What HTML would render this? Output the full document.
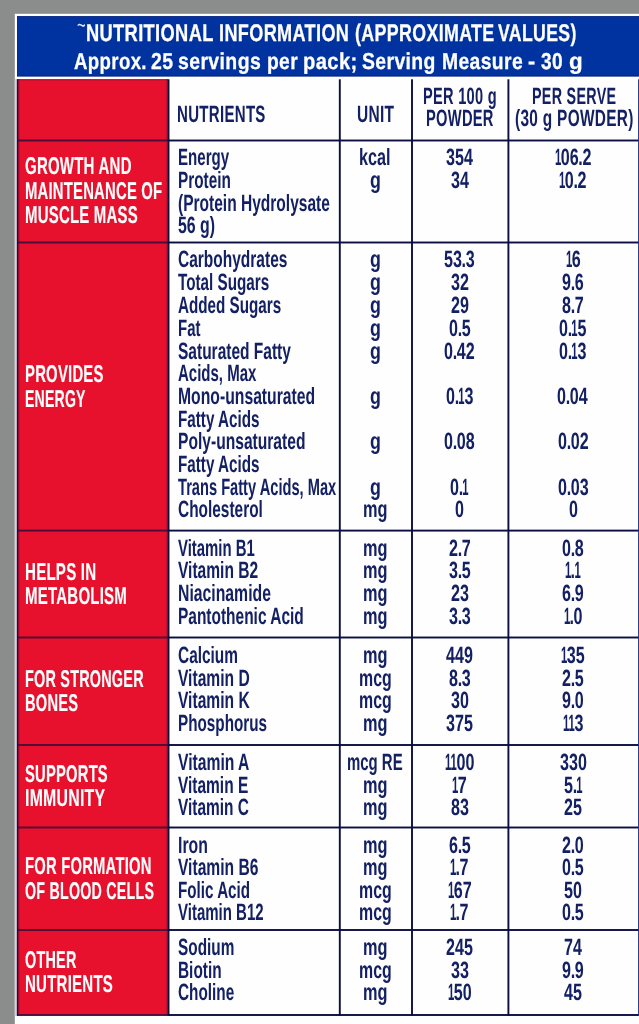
<!DOCTYPE html>
<html lang="en">
<head>
<meta charset="utf-8">
<title>Nutritional Information</title>
<style>
html,body{margin:0;padding:0;background:#8a8d8c;}
body{width:639px;height:1024px;overflow:hidden;position:relative;font-family:"Liberation Sans",sans-serif;}
#label{position:absolute;left:0;top:0;width:639px;height:1024px;overflow:hidden;background:#8a8d8c;}
#bg{position:absolute;left:0;top:0;width:639px;height:1024px;display:block;}
.t{position:absolute;white-space:nowrap;line-height:30px;font-weight:bold;transform-origin:0 50%;color:#142064;
   text-rendering:geometricPrecision;margin:0;padding:0;}
.t.title{color:#fff;font-size:24.00px;letter-spacing:0.020em;}
.t.cat{color:#fff;font-size:24.20px;letter-spacing:0.015em;}
.t.head{font-size:23.50px;letter-spacing:0.020em;}
.t.name,.t.unit,.t.num{font-size:23.50px;}
.t.tilde{font-size:23.5px;letter-spacing:0;}
.tl{margin:0;padding:0;font-size:0;line-height:0;}
.t.title{-webkit-text-stroke:0.3px #fff;}
.t.cat{-webkit-text-stroke:0.15px #fff;}
.t.t2{font-size:23px;}
.t.tilde{-webkit-text-stroke:0;font-weight:normal;color:#e4e9fb;}
.t.num{font-kerning:none;}
.n1{display:inline-block;transform:scaleX(.7);margin:0 -0.1em;}
.nd{margin:0 -0.02em;}
</style>
</head>
<body>
<div id="label">
<svg id="bg" width="639" height="1024" viewBox="0 0 639 1024" aria-hidden="true">
<rect x="0" y="0" width="639" height="1024" fill="#8a8d8c"/>
<rect x="14.8" y="13.8" width="625" height="1011" fill="#fefefe"/>
<rect x="14.8" y="79" width="2.4" height="937" fill="#d3d1e2"/>
<rect x="17" y="16.1" width="622" height="60.5" fill="#001f7a"/>
<rect x="17.3" y="16.9" width="622" height="58.7" fill="#0033a0"/>
<rect x="17.2" y="79.3" width="151" height="935.8" fill="#e8112d"/>
<rect x="18.2" y="79.3" width="1.6" height="935.8" fill="#c30f31"/>
<rect x="165.9" y="79.3" width="1.8" height="935.8" fill="#c30f31"/>
<rect x="17.00" y="79.30" width="151.30" height="1.00" fill="#9c0f2c"/>
<rect x="168.00" y="139.55" width="471.00" height="1.90" fill="#0b0e40"/>
<rect x="17.00" y="139.55" width="151.30" height="1.90" fill="#4a0d3a"/>
<rect x="168.00" y="241.55" width="471.00" height="1.90" fill="#0b0e40"/>
<rect x="17.00" y="241.55" width="151.30" height="1.90" fill="#4a0d3a"/>
<rect x="168.00" y="529.65" width="471.00" height="1.90" fill="#0b0e40"/>
<rect x="17.00" y="529.65" width="151.30" height="1.90" fill="#4a0d3a"/>
<rect x="168.00" y="636.55" width="471.00" height="1.90" fill="#0b0e40"/>
<rect x="17.00" y="636.55" width="151.30" height="1.90" fill="#4a0d3a"/>
<rect x="168.00" y="744.05" width="471.00" height="1.90" fill="#0b0e40"/>
<rect x="17.00" y="744.05" width="151.30" height="1.90" fill="#4a0d3a"/>
<rect x="168.00" y="826.55" width="471.00" height="1.90" fill="#0b0e40"/>
<rect x="17.00" y="826.55" width="151.30" height="1.90" fill="#4a0d3a"/>
<rect x="168.00" y="929.05" width="471.00" height="1.90" fill="#0b0e40"/>
<rect x="17.00" y="929.05" width="151.30" height="1.90" fill="#4a0d3a"/>
<rect x="168.00" y="1014.05" width="471.00" height="1.90" fill="#0b0e40"/>
<rect x="17.00" y="1014.05" width="151.30" height="1.90" fill="#4a0d3a"/>
<rect x="16.85" y="79.30" width="1.50" height="936.60" fill="#2a0a34"/>
<rect x="167.65" y="79.30" width="1.80" height="936.60" fill="#150a30"/>
<rect x="338.85" y="79.30" width="1.90" height="936.60" fill="#0b0e40"/>
<rect x="411.05" y="79.30" width="1.90" height="936.60" fill="#0b0e40"/>
<rect x="507.45" y="79.30" width="1.90" height="936.60" fill="#0b0e40"/>
<rect x="638.1" y="79.3" width="1.2" height="936.5" fill="#1f2a80"/>
</svg>
<header class="titleblock">
<h1 class="tl"><span class="t title tilde" style="left:77.27px;top:10px;transform:scaleX(0.6298)">~</span> <span class="t title" style="left:85.86px;top:19px;transform:scaleX(0.7607)">NUTRITIONAL</span> <span class="t title" style="left:218.97px;top:19px;transform:scaleX(0.7539)">INFORMATION</span> <span class="t title" style="left:354.57px;top:19px;transform:scaleX(0.7422)">(APPROXIMATE</span> <span class="t title" style="left:498.32px;top:19px;transform:scaleX(0.7362)">VALUES)</span></h1>
<p class="tl"><span class="t title t2" style="left:73.90px;top:46px;transform:scaleX(0.8091)">Approx.</span> <span class="t title t2" style="left:150.77px;top:46px;transform:scaleX(0.8444)">25</span> <span class="t title t2" style="left:177.57px;top:46px;transform:scaleX(0.8457)">servings</span> <span class="t title t2" style="left:266.85px;top:46px;transform:scaleX(0.8345)">per</span> <span class="t title t2" style="left:303.28px;top:46px;transform:scaleX(0.8773)">pack;</span> <span class="t title t2" style="left:361.87px;top:46px;transform:scaleX(0.8425)">Serving</span> <span class="t title t2" style="left:441.84px;top:46px;transform:scaleX(0.8395)">Measure</span> <span class="t title t2" style="left:528.46px;top:46px;transform:scaleX(0.9391)">-</span> <span class="t title t2" style="left:540.79px;top:46px;transform:scaleX(0.8286)">30</span> <span class="t title t2" style="left:568.63px;top:46px;transform:scaleX(0.9739)">g</span></p>
</header>
<section class="colheads">
<span class="t head" style="left:177.44px;top:99px;transform:scaleX(0.6394)">NUTRIENTS</span>
<span class="t head" style="left:357.06px;top:99px;transform:scaleX(0.6587)">UNIT</span>
<span class="t head" style="left:423.37px;top:81px;transform:scaleX(0.6203)">PER 100 g</span>
<span class="t head" style="left:426.31px;top:103px;transform:scaleX(0.6236)">POWDER</span>
<span class="t head" style="left:531.69px;top:81px;transform:scaleX(0.6096)">PER SERVE</span>
<span class="t head" style="left:514.58px;top:103px;transform:scaleX(0.6553)">(30 g POWDER)</span>
</section>
<section class="row">
<span class="t cat" style="left:24.80px;top:152px;transform:scaleX(0.6202)">GROWTH AND</span>
<span class="t cat" style="left:24.80px;top:177px;transform:scaleX(0.6130)">MAINTENANCE OF</span>
<span class="t cat" style="left:24.80px;top:201px;transform:scaleX(0.6182)">MUSCLE MASS</span>
<span class="t name" style="left:177.50px;top:142px;transform:scaleX(0.6415)">Energy</span>
<span class="t unit" style="left:359.24px;top:142px;transform:scaleX(0.6888)">kcal</span>
<span class="t num" style="left:446.07px;top:142px;transform:scaleX(0.6850)">354</span>
<span class="t num" style="left:554.85px;top:142px;transform:scaleX(0.6850)"><span class="n1">1</span>06<span class="nd">.</span>2</span>
<span class="t name" style="left:177.50px;top:165px;transform:scaleX(0.6528)">Protein</span>
<span class="t unit" style="left:369.79px;top:165px;transform:scaleX(0.7574)">g</span>
<span class="t num" style="left:450.52px;top:165px;transform:scaleX(0.6850)">34</span>
<span class="t num" style="left:559.30px;top:165px;transform:scaleX(0.6850)"><span class="n1">1</span>0<span class="nd">.</span>2</span>
<span class="t name" style="left:177.50px;top:188px;transform:scaleX(0.6607)">(Protein Hydrolysate</span>
<span class="t name" style="left:177.50px;top:210px;transform:scaleX(0.6753)">56 g)</span>
</section>
<section class="row">
<span class="t cat" style="left:24.80px;top:360px;transform:scaleX(0.6150)">PROVIDES</span>
<span class="t cat" style="left:24.80px;top:385px;transform:scaleX(0.5816)">ENERGY</span>
<span class="t name" style="left:177.50px;top:244px;transform:scaleX(0.6594)">Carbohydrates</span>
<span class="t unit" style="left:369.79px;top:244px;transform:scaleX(0.7574)">g</span>
<span class="t num" style="left:444.27px;top:244px;transform:scaleX(0.6850)">53<span class="nd">.</span>3</span>
<span class="t num" style="left:565.72px;top:244px;transform:scaleX(0.6850)"><span class="n1">1</span>6</span>
<span class="t name" style="left:177.50px;top:267px;transform:scaleX(0.6480)">Total Sugars</span>
<span class="t unit" style="left:369.79px;top:267px;transform:scaleX(0.7574)">g</span>
<span class="t num" style="left:450.78px;top:267px;transform:scaleX(0.6850)">32</span>
<span class="t num" style="left:562.13px;top:267px;transform:scaleX(0.6850)">9<span class="nd">.</span>6</span>
<span class="t name" style="left:177.50px;top:290px;transform:scaleX(0.6471)">Added Sugars</span>
<span class="t unit" style="left:369.79px;top:290px;transform:scaleX(0.7574)">g</span>
<span class="t num" style="left:450.69px;top:290px;transform:scaleX(0.6850)">29</span>
<span class="t num" style="left:562.21px;top:290px;transform:scaleX(0.6850)">8<span class="nd">.</span>7</span>
<span class="t name" style="left:177.50px;top:313px;transform:scaleX(0.6371)">Fat</span>
<span class="t unit" style="left:369.79px;top:313px;transform:scaleX(0.7574)">g</span>
<span class="t num" style="left:448.64px;top:313px;transform:scaleX(0.6850)">0<span class="nd">.</span>5</span>
<span class="t num" style="left:559.13px;top:313px;transform:scaleX(0.6850)">0<span class="nd">.</span><span class="n1">1</span>5</span>
<span class="t name" style="left:177.50px;top:336px;transform:scaleX(0.6600)">Saturated Fatty</span>
<span class="t unit" style="left:369.79px;top:336px;transform:scaleX(0.7574)">g</span>
<span class="t num" style="left:444.19px;top:336px;transform:scaleX(0.6850)">0<span class="nd">.</span>42</span>
<span class="t num" style="left:559.21px;top:336px;transform:scaleX(0.6850)">0<span class="nd">.</span><span class="n1">1</span>3</span>
<span class="t name" style="left:177.50px;top:358px;transform:scaleX(0.6384)">Acids, Max</span>
<span class="t name" style="left:177.50px;top:381px;transform:scaleX(0.6693)">Mono-unsaturated</span>
<span class="t unit" style="left:369.79px;top:381px;transform:scaleX(0.7574)">g</span>
<span class="t num" style="left:445.81px;top:381px;transform:scaleX(0.6850)">0<span class="nd">.</span><span class="n1">1</span>3</span>
<span class="t num" style="left:557.33px;top:381px;transform:scaleX(0.6850)">0<span class="nd">.</span>04</span>
<span class="t name" style="left:177.50px;top:404px;transform:scaleX(0.6477)">Fatty Acids</span>
<span class="t name" style="left:177.50px;top:426px;transform:scaleX(0.6639)">Poly-unsaturated</span>
<span class="t unit" style="left:369.79px;top:426px;transform:scaleX(0.7574)">g</span>
<span class="t num" style="left:444.19px;top:426px;transform:scaleX(0.6850)">0<span class="nd">.</span>08</span>
<span class="t num" style="left:557.59px;top:426px;transform:scaleX(0.6850)">0<span class="nd">.</span>02</span>
<span class="t name" style="left:177.50px;top:449px;transform:scaleX(0.6477)">Fatty Acids</span>
<span class="t name" style="left:177.50px;top:472px;transform:scaleX(0.6233)">Trans Fatty Acids, Max</span>
<span class="t unit" style="left:369.79px;top:472px;transform:scaleX(0.7574)">g</span>
<span class="t num" style="left:450.01px;top:472px;transform:scaleX(0.6850)">0<span class="nd">.</span><span class="n1">1</span></span>
<span class="t num" style="left:557.59px;top:472px;transform:scaleX(0.6850)">0<span class="nd">.</span>03</span>
<span class="t name" style="left:177.50px;top:494px;transform:scaleX(0.6565)">Cholesterol</span>
<span class="t unit" style="left:362.76px;top:494px;transform:scaleX(0.6946)">mg</span>
<span class="t num" style="left:455.15px;top:494px;transform:scaleX(0.6850)">0</span>
<span class="t num" style="left:568.55px;top:494px;transform:scaleX(0.6850)">0</span>
</section>
<section class="row">
<span class="t cat" style="left:24.80px;top:558px;transform:scaleX(0.6240)">HELPS IN</span>
<span class="t cat" style="left:24.80px;top:582px;transform:scaleX(0.6209)">METABOLISM</span>
<span class="t name" style="left:177.50px;top:533px;transform:scaleX(0.6345)">Vitamin B1</span>
<span class="t unit" style="left:362.76px;top:533px;transform:scaleX(0.6946)">mg</span>
<span class="t num" style="left:448.81px;top:533px;transform:scaleX(0.6850)">2<span class="nd">.</span>7</span>
<span class="t num" style="left:562.04px;top:533px;transform:scaleX(0.6850)">0<span class="nd">.</span>8</span>
<span class="t name" style="left:177.50px;top:555px;transform:scaleX(0.6625)">Vitamin B2</span>
<span class="t unit" style="left:362.76px;top:555px;transform:scaleX(0.6946)">mg</span>
<span class="t num" style="left:448.81px;top:555px;transform:scaleX(0.6850)">3<span class="nd">.</span>5</span>
<span class="t num" style="left:565.12px;top:555px;transform:scaleX(0.6850)"><span class="n1">1</span><span class="nd">.</span><span class="n1">1</span></span>
<span class="t name" style="left:177.50px;top:578px;transform:scaleX(0.6713)">Niacinamide</span>
<span class="t unit" style="left:362.76px;top:578px;transform:scaleX(0.6946)">mg</span>
<span class="t num" style="left:450.69px;top:578px;transform:scaleX(0.6850)">23</span>
<span class="t num" style="left:562.13px;top:578px;transform:scaleX(0.6850)">6<span class="nd">.</span>9</span>
<span class="t name" style="left:177.50px;top:601px;transform:scaleX(0.6580)">Pantothenic Acid</span>
<span class="t unit" style="left:362.76px;top:601px;transform:scaleX(0.6946)">mg</span>
<span class="t num" style="left:448.81px;top:601px;transform:scaleX(0.6850)">3<span class="nd">.</span>3</span>
<span class="t num" style="left:563.84px;top:601px;transform:scaleX(0.6850)"><span class="n1">1</span><span class="nd">.</span>0</span>
</section>
<section class="row">
<span class="t cat" style="left:24.80px;top:665px;transform:scaleX(0.5962)">FOR STRONGER</span>
<span class="t cat" style="left:24.80px;top:689px;transform:scaleX(0.6069)">BONES</span>
<span class="t name" style="left:177.50px;top:640px;transform:scaleX(0.6556)">Calcium</span>
<span class="t unit" style="left:362.76px;top:640px;transform:scaleX(0.6946)">mg</span>
<span class="t num" style="left:446.41px;top:640px;transform:scaleX(0.6850)">449</span>
<span class="t num" style="left:561.18px;top:640px;transform:scaleX(0.6850)"><span class="n1">1</span>35</span>
<span class="t name" style="left:177.50px;top:663px;transform:scaleX(0.6636)">Vitamin D</span>
<span class="t unit" style="left:358.69px;top:663px;transform:scaleX(0.6762)">mcg</span>
<span class="t num" style="left:448.73px;top:663px;transform:scaleX(0.6850)">8<span class="nd">.</span>3</span>
<span class="t num" style="left:562.13px;top:663px;transform:scaleX(0.6850)">2<span class="nd">.</span>5</span>
<span class="t name" style="left:177.50px;top:685px;transform:scaleX(0.6636)">Vitamin K</span>
<span class="t unit" style="left:358.69px;top:685px;transform:scaleX(0.6762)">mcg</span>
<span class="t num" style="left:450.78px;top:685px;transform:scaleX(0.6850)">30</span>
<span class="t num" style="left:562.21px;top:685px;transform:scaleX(0.6850)">9<span class="nd">.</span>0</span>
<span class="t name" style="left:177.50px;top:708px;transform:scaleX(0.6493)">Phosphorus</span>
<span class="t unit" style="left:362.76px;top:708px;transform:scaleX(0.6946)">mg</span>
<span class="t num" style="left:446.24px;top:708px;transform:scaleX(0.6850)">375</span>
<span class="t num" style="left:562.81px;top:708px;transform:scaleX(0.6850)"><span class="n1">1</span><span class="n1">1</span>3</span>
</section>
<section class="row">
<span class="t cat" style="left:24.80px;top:760px;transform:scaleX(0.6100)">SUPPORTS</span>
<span class="t cat" style="left:24.80px;top:784px;transform:scaleX(0.6554)">IMMUNITY</span>
<span class="t name" style="left:177.50px;top:747px;transform:scaleX(0.6667)">Vitamin A</span>
<span class="t unit" style="left:347.05px;top:747px;transform:scaleX(0.6353)">mcg RE</span>
<span class="t num" style="left:444.96px;top:747px;transform:scaleX(0.6850)"><span class="n1">1</span><span class="n1">1</span>00</span>
<span class="t num" style="left:559.73px;top:747px;transform:scaleX(0.6850)">330</span>
<span class="t name" style="left:177.50px;top:770px;transform:scaleX(0.6582)">Vitamin E</span>
<span class="t unit" style="left:362.76px;top:770px;transform:scaleX(0.6946)">mg</span>
<span class="t num" style="left:452.32px;top:770px;transform:scaleX(0.6850)"><span class="n1">1</span>7</span>
<span class="t num" style="left:563.50px;top:770px;transform:scaleX(0.6850)">5<span class="nd">.</span><span class="n1">1</span></span>
<span class="t name" style="left:177.50px;top:792px;transform:scaleX(0.6573)">Vitamin C</span>
<span class="t unit" style="left:362.76px;top:792px;transform:scaleX(0.6946)">mg</span>
<span class="t num" style="left:450.69px;top:792px;transform:scaleX(0.6850)">83</span>
<span class="t num" style="left:564.01px;top:792px;transform:scaleX(0.6850)">25</span>
</section>
<section class="row">
<span class="t cat" style="left:24.80px;top:852px;transform:scaleX(0.6110)">FOR FORMATION</span>
<span class="t cat" style="left:24.80px;top:877px;transform:scaleX(0.5903)">OF BLOOD CELLS</span>
<span class="t name" style="left:177.50px;top:830px;transform:scaleX(0.6721)">Iron</span>
<span class="t unit" style="left:362.76px;top:830px;transform:scaleX(0.6946)">mg</span>
<span class="t num" style="left:448.73px;top:830px;transform:scaleX(0.6850)">6<span class="nd">.</span>5</span>
<span class="t num" style="left:562.21px;top:830px;transform:scaleX(0.6850)">2<span class="nd">.</span>0</span>
<span class="t name" style="left:177.50px;top:852px;transform:scaleX(0.6636)">Vitamin B6</span>
<span class="t unit" style="left:362.76px;top:852px;transform:scaleX(0.6946)">mg</span>
<span class="t num" style="left:450.44px;top:852px;transform:scaleX(0.6850)"><span class="n1">1</span><span class="nd">.</span>7</span>
<span class="t num" style="left:562.04px;top:852px;transform:scaleX(0.6850)">0<span class="nd">.</span>5</span>
<span class="t name" style="left:177.50px;top:875px;transform:scaleX(0.6469)">Folic Acid</span>
<span class="t unit" style="left:358.69px;top:875px;transform:scaleX(0.6762)">mcg</span>
<span class="t num" style="left:447.87px;top:875px;transform:scaleX(0.6850)"><span class="n1">1</span>67</span>
<span class="t num" style="left:564.10px;top:875px;transform:scaleX(0.6850)">50</span>
<span class="t name" style="left:177.50px;top:897px;transform:scaleX(0.6386)">Vitamin B12</span>
<span class="t unit" style="left:358.69px;top:897px;transform:scaleX(0.6762)">mcg</span>
<span class="t num" style="left:450.44px;top:897px;transform:scaleX(0.6850)"><span class="n1">1</span><span class="nd">.</span>7</span>
<span class="t num" style="left:562.04px;top:897px;transform:scaleX(0.6850)">0<span class="nd">.</span>5</span>
</section>
<section class="row">
<span class="t cat" style="left:24.80px;top:946px;transform:scaleX(0.5965)">OTHER</span>
<span class="t cat" style="left:24.80px;top:970px;transform:scaleX(0.6214)">NUTRIENTS</span>
<span class="t name" style="left:177.50px;top:932px;transform:scaleX(0.6537)">Sodium</span>
<span class="t unit" style="left:362.76px;top:932px;transform:scaleX(0.6946)">mg</span>
<span class="t num" style="left:446.16px;top:932px;transform:scaleX(0.6850)">245</span>
<span class="t num" style="left:563.75px;top:932px;transform:scaleX(0.6850)">74</span>
<span class="t name" style="left:177.50px;top:955px;transform:scaleX(0.6554)">Biotin</span>
<span class="t unit" style="left:358.69px;top:955px;transform:scaleX(0.6762)">mcg</span>
<span class="t num" style="left:450.78px;top:955px;transform:scaleX(0.6850)">33</span>
<span class="t num" style="left:562.13px;top:955px;transform:scaleX(0.6850)">9<span class="nd">.</span>9</span>
<span class="t name" style="left:177.50px;top:977px;transform:scaleX(0.6522)">Choline</span>
<span class="t unit" style="left:362.76px;top:977px;transform:scaleX(0.6946)">mg</span>
<span class="t num" style="left:447.87px;top:977px;transform:scaleX(0.6850)"><span class="n1">1</span>50</span>
<span class="t num" style="left:564.18px;top:977px;transform:scaleX(0.6850)">45</span>
</section>
</div>
</body>
</html>
